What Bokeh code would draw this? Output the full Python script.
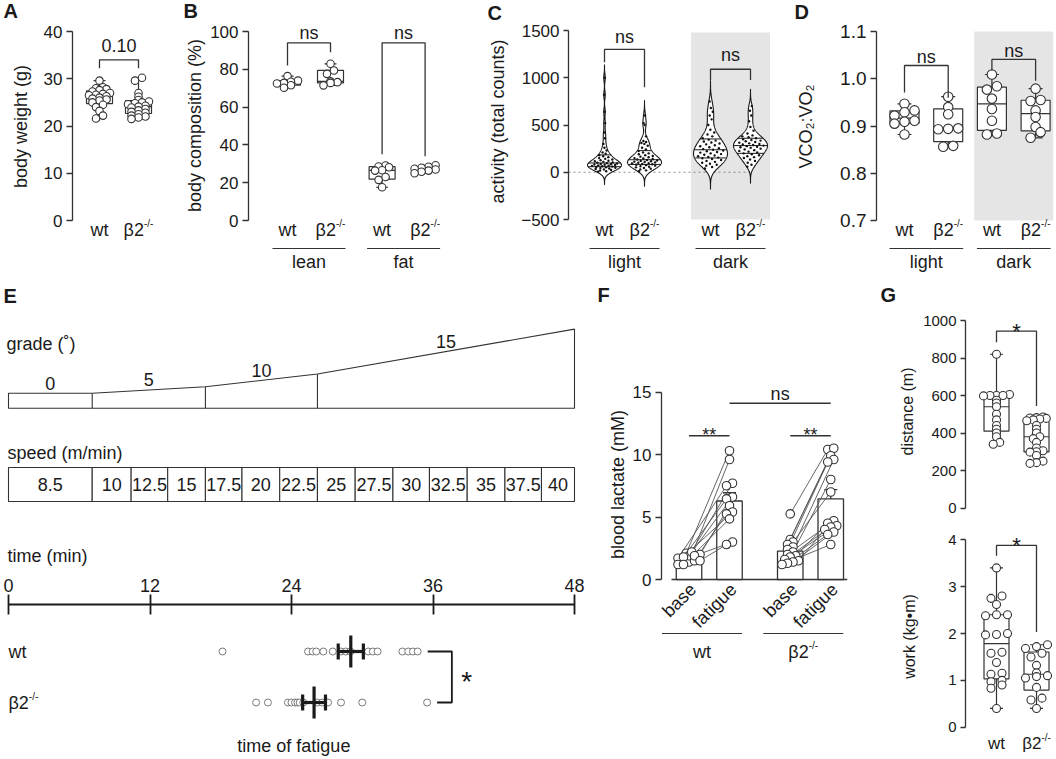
import numpy as np
from bokeh.plotting import figure
from bokeh.models import Range1d, FixedTicker, PrintfTickFormatter
from bokeh.layouts import row, column
from bokeh.embed import file_html
from bokeh.resources import INLINE
from bokeh.core.properties import value

FONT = "Liberation Sans"
INK = "#1a1a1a"
LINE = "#333333"
SHADE = "#e5e5e5"

# ---------------- data ----------------
# A: body weight (g)
bw_cats = ["wt", "β2"]
bw_pos = [1, 2]
bw_wt = [29.6, 28.2, 28.0, 27.8, 27.6, 27.3, 27.0, 26.8, 26.6, 26.5, 26.3, 26.0,
         25.8, 25.6, 25.4, 25.0, 24.5, 24.0, 23.2, 22.2, 21.6]
bw_b2 = [30.2, 29.6, 27.0, 26.2, 25.5, 25.2, 25.0, 24.8, 24.6, 24.3, 24.1, 23.9,
         23.6, 23.3, 23.0, 22.8, 22.5, 22.2, 22.0, 21.8, 21.5]
bw_ticks = [0, 10, 20, 30, 40]
bw_sig = [(0, 1, 34.0, 32.2, 32.2, "0.10")]

# B: body composition (%)
comp_cats = ["wt", "β2", "wt", "β2"]
comp_pos = [1, 2, 3.2, 4.2]
comp_groups = [("lean", 0, 1), ("fat", 2, 3)]
comp_lean_wt = [76.4, 74.0, 73.4, 72.8, 72.5, 71.6, 70.2]
comp_lean_b2 = [82.9, 79.4, 77.6, 73.6, 73.2, 72.8, 71.5]
comp_fat_wt = [29.1, 28.6, 28.2, 26.6, 26.4, 23.0, 21.5, 17.6]
comp_fat_b2 = [29.2, 28.4, 27.9, 27.4, 27.0, 26.4, 25.8, 25.0]
comp_ticks = [0, 20, 40, 60, 80, 100]
comp_sig = [(0, 1, 94.0, 82.0, 89.0, "ns"), (2, 3, 94.0, 35.0, 34.0, "ns")]

# C: activity (total counts)
act_cats = ["wt", "β2", "wt", "β2"]
act_pos = [1, 2, 3.65, 4.65]
act_groups = [("light", 0, 1), ("dark", 2, 3)]
act_wt_light = [1000, 820, 640, 520, 420, 360, 300, 260, 230, 210, 195, 180, 170, 160,
                150, 142, 135, 128, 122, 116, 110, 105, 100, 96, 92, 88, 85, 82, 79, 76,
                73, 70, 67, 64, 60, 56, 52, 48, 44, 40, 35, 30, 24, 18, 10, 5]
act_b2_light = [600, 520, 500, 380, 330, 320, 310, 300, 280, 260, 240, 225, 210, 200,
                190, 180, 172, 165, 158, 150, 145, 140, 135, 130, 125, 120, 116, 112,
                108, 104, 100, 96, 92, 88, 84, 80, 75, 70, 64, 58, 52, 45, 38, 30, 20, 10]
act_wt_dark = [750, 680, 640, 600, 560, 500, 450, 420, 400, 380, 360, 345, 335, 325,
               315, 305, 295, 285, 275, 265, 255, 245, 238, 230, 222, 215, 208, 200,
               192, 185, 178, 170, 162, 155, 148, 140, 130, 120, 110, 100, 90, 80, 70, 55, 40]
act_b2_dark = [700, 650, 600, 540, 480, 440, 410, 390, 380, 370, 360, 350, 342, 335,
               328, 320, 313, 306, 300, 294, 288, 282, 276, 270, 264, 258, 250, 242,
               234, 226, 218, 210, 200, 190, 180, 170, 160, 150, 135, 120, 100, 80, 60]
act_ticks = [-500, 0, 500, 1000, 1500]
act_sig = [(0, 1, 1300.0, 1165.0, 900.0, "ns"), (2, 3, 1090.0, 975.0, 975.0, "ns")]

# D: VCO2:VO2
rer_cats = ["wt", "β2", "wt", "β2"]
rer_pos = [1, 2, 3, 4]
rer_groups = [("light", 0, 1), ("dark", 2, 3)]
rer_wt_light = [0.947, 0.933, 0.929, 0.922, 0.911, 0.909, 0.905, 0.882]
rer_b2_light = [0.962, 0.940, 0.925, 0.895, 0.894, 0.893, 0.858, 0.856]
rer_wt_dark = [1.009, 0.984, 0.977, 0.958, 0.936, 0.911, 0.884, 0.882]
rer_b2_dark = [0.979, 0.955, 0.953, 0.933, 0.919, 0.898, 0.887, 0.875]
rer_ticks = [0.7, 0.8, 0.9, 1.0, 1.1]
rer_sig = [(0, 1, 1.028, 0.971, 0.960, "ns"), (2, 3, 1.041, 1.017, 0.996, "ns")]

# E: treadmill protocol and time of fatigue
grade_edges = [0.0, 7.1, 16.7, 26.2, 48.0]
grade_values = [0, 5, 10, 15]
speed_edges = [0.0, 7.1, 10.4, 13.5, 16.7, 19.8, 23.0, 26.2, 29.4, 32.6, 35.7, 38.9,
               42.1, 45.2, 48.0]
speed_labels = ["8.5", "10", "12.5", "15", "17.5", "20", "22.5", "25", "27.5", "30",
                "32.5", "35", "37.5", "40"]
time_ticks = [0, 12, 24, 36, 48]
ftime_cats = ["wt", "β2"]
ftime_wt = [18.15, 25.4, 25.8, 26.1, 26.7, 27.5, 28.2, 28.6, 29.0, 30.5, 30.9, 31.3,
            33.4, 33.9, 34.3, 34.7]
ftime_b2 = [21.0, 22.0, 23.7, 24.0, 24.3, 24.5, 24.7, 25.0, 26.2, 26.6, 27.1, 28.2,
            30.0, 35.5]

# F: blood lactate (mM)
lac_cats = ["base", "fatigue", "base", "fatigue"]
lac_pos = [1, 2, 3.5, 4.5]
lac_groups = [("wt", 0, 1), ("β2", 2, 3)]
lac_wt_base = [2.1, 1.4, 1.9, 1.7, 2.2, 1.2, 2.0, 1.8, 1.5, 1.2, 1.9, 1.5]
lac_wt_fat = [10.3, 9.6, 7.7, 7.5, 6.6, 6.45, 5.9, 5.4, 5.25, 4.85, 3.0, 2.8]
lac_b2_base = [5.25, 3.2, 3.0, 2.8, 2.6, 2.4, 2.2, 2.0, 1.9, 1.8, 1.6, 1.5, 1.4, 1.3, 1.2]
lac_b2_fat = [10.4, 10.5, 7.0, 9.9, 9.6, 9.4, 8.0, 4.7, 4.5, 4.3, 4.2, 4.0, 3.8, 3.6, 2.8]
lac_ticks = [0, 5, 10, 15]
lac_sig = [(0, 1, 11.5, "**"), (2, 3, 11.5, "**"), (1, 3, 14.1, "ns")]

# G: distance (m) and work (kg*m)
g_cats = ["wt", "β2"]
g_pos = [1, 2]
dist_wt = [820, 605, 600, 600, 600, 598, 575, 560, 540, 500, 470, 440, 420, 400, 380, 350, 340]
dist_b2 = [485, 482, 480, 478, 475, 470, 465, 440, 420, 400, 380, 370, 350, 320, 305,
           300, 298, 280, 250, 242, 238]
dist_ticks = [0, 200, 400, 600, 800, 1000]
dist_sig = [(0, 1, 943.0, 884.0, 544.0, "*")]
work_wt = [3.4, 2.8, 2.75, 2.62, 2.4, 2.4, 2.38, 2.0, 1.98, 1.97, 1.6, 1.58, 1.38,
           1.15, 1.13, 1.0, 0.97, 0.9, 0.83, 0.4]
work_b2 = [1.76, 1.72, 1.68, 1.58, 1.5, 1.32, 1.16, 1.1, 1.08, 1.05, 0.85, 0.62, 0.58, 0.4]
work_ticks = [0, 1, 2, 3, 4]
work_sig = [(0, 1, 3.88, 3.66, 2.03, "*")]


# ---------------- helpers ----------------
def lin(pa, va, pb, vb):
    k = (vb - va) / (pb - pa)
    return lambda px: va + (px - pa) * k


def panel(fx, fy, w, h, xa, xb, ya, yb, axis_px=None, xloc=None):
    """Figure whose frame fills the figure; (px, value) anchors define the scales."""
    X = lin(xa[0], xa[1], xb[0], xb[1])
    Y = lin(ya[0], ya[1], yb[0], yb[1])
    p = figure(width=w, height=h,
               x_range=Range1d(X(fx), X(fx + w)),
               y_range=Range1d(Y(fy + h), Y(fy)),
               min_border_left=0, min_border_top=0,
               min_border_right=0, min_border_bottom=0,
               x_axis_location=xloc,
               y_axis_location="left" if axis_px is not None else None,
               toolbar_location=None, output_backend="svg",
               outline_line_color=None, background_fill_color="white",
               border_fill_color="white")
    p.grid.visible = False
    if axis_px is not None:
        p.yaxis[0].fixed_location = X(axis_px)
    return p, X, Y


def style_axis(ax, ticks, size, fmt=None, tick_out=6, tick_in=0, color=LINE, lw=1.3,
               standoff=4):
    ax.ticker = FixedTicker(ticks=ticks)
    ax.bounds = (min(ticks), max(ticks))
    ax.axis_line_color = color
    ax.axis_line_width = lw
    ax.major_tick_line_color = color
    ax.major_tick_line_width = lw
    ax.major_tick_out = tick_out
    ax.major_tick_in = tick_in
    ax.minor_tick_line_color = None
    ax.major_label_text_font = FONT
    ax.major_label_text_font_size = size
    ax.major_label_text_color = INK
    ax.major_label_standoff = standoff
    if fmt:
        ax.formatter = PrintfTickFormatter(format=fmt)


def txt(p, x, y, s, size, align="center", angle=0.0, xo=0.0, yo=0.0, color=INK,
        bold=False):
    p.text(x=[x], y=[y], text=[s], text_font=value(FONT),
           text_font_size=value(f"{size}px"),
           text_font_style="bold" if bold else "normal", text_color=color,
           text_align=align, text_baseline="middle", angle=angle,
           x_offset=xo, y_offset=yo)


def vtitle(p, x, y, s, size):
    txt(p, x, y, s, size, angle=np.pi / 2)


def letter(p, x, y, s):
    txt(p, x, y, s, 20, align="left", bold=True)


def cat_label(p, x, y, name, size=18, sup=10, align="center"):
    if name == "β2":
        wm = 1.13 * size
        ws = 0.944 * sup
        left = -(wm + ws) / 2 if align == "center" else 0.0
        txt(p, x, y, "β2", size, align="left", xo=left)
        txt(p, x, y, "-/-", sup, align="left", xo=left + wm, yo=-0.36 * size)
    else:
        txt(p, x, y, name, size, align=align)


def swarm(vals, bin_v, dx):
    v = np.asarray(vals, float)
    order = np.argsort(v)
    offs = np.zeros(len(v))
    groups, cur = [], [order[0]]
    for idx in order[1:]:
        if v[idx] - v[cur[0]] < bin_v:
            cur.append(idx)
        else:
            groups.append(cur)
            cur = [idx]
    groups.append(cur)
    for g in groups:
        m = len(g)
        for k, idx in enumerate(g):
            offs[idx] = (k - (m - 1) / 2) * dx
    return offs


def boxplot(p, x, vals, hw, cw, lw=1.2):
    v = np.asarray(vals, float)
    q1, med, q3 = np.percentile(v, [25, 50, 75], method="weibull")
    lo, hi = v.min(), v.max()
    p.segment(x0=[x, x], y0=[q3, q1], x1=[x, x], y1=[hi, lo], line_color=LINE, line_width=lw)
    p.quad(left=[x - hw], right=[x + hw], bottom=[q1], top=[q3],
           fill_color="white", line_color=LINE, line_width=lw)
    p.segment(x0=[x - hw, x - cw, x - cw], y0=[med, hi, lo],
              x1=[x + hw, x + cw, x + cw], y1=[med, hi, lo],
              line_color=LINE, line_width=lw)


def dots(p, x, vals, bin_v, dx, size, color=LINE):
    v = np.asarray(vals, float)
    p.scatter(x + swarm(v, bin_v, dx), v, size=size, marker="circle",
              fill_color="white", line_color=color, line_width=1.1)


def bracket(p, Y, x1, x2, top, l1, l2, label, size, gap_px):
    """gap_px: distance from the bracket line up to the label's middle."""
    p.multi_line(xs=[[x1, x1, x2, x2]], ys=[[l1, top, top, l2]],
                 line_color=LINE, line_width=1.3)
    uy = Y(0) - Y(1)
    txt(p, (x1 + x2) / 2, top + gap_px * uy, label, size)


def violin(p, x, vals, half_w):
    v = np.asarray(vals, float)
    n = len(v)
    q1, med, q3 = np.percentile(v, [25, 50, 75], method="weibull")
    sd = v.std(ddof=1)
    h = 0.9 * min(sd, (q3 - q1) / 1.34) * n ** -0.2
    grid = np.linspace(v.min() - 3.5 * h, v.max() + 3.5 * h, 400)
    dens = np.exp(-0.5 * ((grid[:, None] - v[None, :]) / h) ** 2).sum(1)
    w = dens / dens.max() * half_w
    p.patch(np.concatenate([x - w, (x + w)[::-1]]), np.concatenate([grid, grid[::-1]]),
            fill_color="white", line_color=INK, line_width=1.1)
    for q in (q1, med, q3):
        wq = np.interp(q, grid, w)
        p.segment(x0=[x - wq], y0=[q], x1=[x + wq], y1=[q], line_color=INK, line_width=1.0)
    vs = np.sort(v)
    u = ((np.arange(n) * 0.618034) % 1.0) * 2 - 1
    wv = np.interp(vs, grid, w)
    p.scatter(x + u * 0.8 * wv, vs, size=2.4, marker="circle",
              fill_color="#111111", line_color=None)


def group_axis(p, Y, pos, cats, groups, ux):
    for x, c in zip(pos, cats):
        cat_label(p, x, Y(229), c)
    for name, i0, i1 in groups:
        a, b = pos[i0] - 15 * ux, pos[i1] + 15 * ux
        p.segment(x0=[a], y0=[Y(248)], x1=[b], y1=[Y(248)], line_color=LINE, line_width=1.2)
        txt(p, (pos[i0] + pos[i1]) / 2, Y(261), name, 18)


# ---------------- A ----------------
pA, XA, YA = panel(0, 0, 178, 283, (99, 1), (138, 2), (31, 40), (220, 0), axis_px=72)
style_axis(pA.yaxis[0], bw_ticks, "17px")
uxA, uyA = XA(1) - XA(0), abs(YA(1) - YA(0))
for x, vals in zip(bw_pos, [bw_wt, bw_b2]):
    boxplot(pA, x, vals, 13 * uxA, 6 * uxA)
    dots(pA, x, vals, 3.3 * uyA, 7 * uxA, 7.5)
for i0, i1, top, l1, l2, lab in bw_sig:
    bracket(pA, YA, bw_pos[i0], bw_pos[i1], top, l1, l2, lab, 18, 14)
for x, c in zip(bw_pos, bw_cats):
    cat_label(pA, x, YA(229), c)
vtitle(pA, XA(20), YA(126), "body weight (g)", 18)
letter(pA, XA(3), YA(10), "A")

# ---------------- B ----------------
pB, XB, YB = panel(178, 0, 292, 283, (287, 1), (330, 2), (31, 100), (220, 0), axis_px=248)
style_axis(pB.yaxis[0], comp_ticks, "17px")
uxB, uyB = XB(1) - XB(0), abs(YB(1) - YB(0))
for x, vals in zip(comp_pos, [comp_lean_wt, comp_lean_b2, comp_fat_wt, comp_fat_b2]):
    boxplot(pB, x, vals, 13 * uxB, 6 * uxB)
    dots(pB, x, vals, 3.8 * uyB, 7 * uxB, 7.5)
for i0, i1, top, l1, l2, lab in comp_sig:
    bracket(pB, YB, comp_pos[i0], comp_pos[i1], top, l1, l2, lab, 18, 9.5)
group_axis(pB, YB, comp_pos, comp_cats, comp_groups, uxB)
vtitle(pB, XB(194), YB(125), "body composition (%)", 18)
letter(pB, XB(183), YB(10), "B")

# ---------------- C ----------------
pC, XC, YC = panel(470, 0, 305, 283, (604, 1), (644, 2), (30, 1500), (219, -500), axis_px=568)
style_axis(pC.yaxis[0], act_ticks, "17px", tick_out=5)
uxC = XC(1) - XC(0)
dark_mid = (act_pos[2] + act_pos[3]) / 2
pC.quad(left=[dark_mid - 39.5 * uxC], right=[dark_mid + 39.5 * uxC],
        bottom=[min(act_ticks)], top=[YC(32)], fill_color=SHADE, line_color=None)
pC.segment(x0=[XC(568)], y0=[0], x1=[act_pos[-1]], y1=[0], line_color="#8a8a8a",
           line_width=1.2, line_dash="2 3")
for x, vals in zip(act_pos, [act_wt_light, act_b2_light, act_wt_dark, act_b2_dark]):
    violin(pC, x, vals, 17 * uxC)
for (i0, i1, top, l1, l2, lab), gap in zip(act_sig, [12, 14]):
    bracket(pC, YC, act_pos[i0], act_pos[i1], top, l1, l2, lab, 18, gap)
group_axis(pC, YC, act_pos, act_cats, act_groups, uxC)
vtitle(pC, XC(497), YC(121), "activity (total counts)", 18)
letter(pC, XC(487), YC(12), "C")

# ---------------- D ----------------
pD, XD, YD = panel(775, 0, 281, 283, (904, 1), (947.7, 2), (31, 1.1), (220, 0.7), axis_px=876)
style_axis(pD.yaxis[0], rer_ticks, "19px", fmt="%.1f")
uxD, uyD = XD(1) - XD(0), abs(YD(1) - YD(0))
dmid = (rer_pos[2] + rer_pos[3]) / 2
pD.quad(left=[dmid - 39.5 * uxD], right=[dmid + 39.5 * uxD],
        bottom=[min(rer_ticks)], top=[max(rer_ticks)], fill_color=SHADE, line_color=None)
for x, vals in zip(rer_pos, [rer_wt_light, rer_b2_light, rer_wt_dark, rer_b2_dark]):
    boxplot(pD, x, vals, 14.5 * uxD, 7 * uxD)
    dots(pD, x, vals, 5.7 * uyD, 10 * uxD, 9.5)
for (i0, i1, top, l1, l2, lab), gap in zip(rer_sig, [9, 8]):
    bracket(pD, YD, rer_pos[i0], rer_pos[i1], top, l1, l2, lab, 18, gap)
group_axis(pD, YD, rer_pos, rer_cats, rer_groups, uxD)
vtitle(pD, XD(805), YD(126), "VCO₂:VO₂", 18)
letter(pD, XD(794), YD(11), "D")

# ---------------- E: protocol + time of fatigue ----------------
pE, XE, YE = panel(0, 283, 590, 476, (8, 0.0), (574, 48.0), (0, 0.0), (1, 1.0),
                   xloc="above")
pE.xaxis[0].fixed_location = 604
style_axis(pE.xaxis[0], time_ticks, "18px", tick_out=10, tick_in=10, color=INK, lw=1.8,
           standoff=3)
ppm = 1.0 / (XE(1) - XE(0))
y_floor, y_top0 = 407.7, 392.7
tops = [y_top0]
for i, g in enumerate(grade_values):
    dt = grade_edges[i + 1] - grade_edges[i]
    tops.append(tops[-1] - 0.65 * np.tan(np.radians(g)) * dt * ppm)
outline_x = [grade_edges[0]] + list(grade_edges) + [grade_edges[-1]]
outline_y = [y_floor] + tops + [y_floor]
pE.patch(outline_x, outline_y, fill_color=None, line_color=LINE, line_width=1.1)
pE.segment(x0=grade_edges[1:-1], y0=[y_floor] * 3, x1=grade_edges[1:-1], y1=tops[1:-1],
           line_color=LINE, line_width=1.1)
for i, g in enumerate(grade_values):
    mid = (grade_edges[i] + grade_edges[i + 1]) / 2
    txt(pE, mid, (tops[i] + tops[i + 1]) / 2 - 10, str(g), 18)
pE.quad(left=speed_edges[:-1], right=speed_edges[1:], bottom=[501] * 14, top=[467] * 14,
        fill_color="white", line_color=LINE, line_width=1.1)
for i, s in enumerate(speed_labels):
    txt(pE, (speed_edges[i] + speed_edges[i + 1]) / 2, 484, s, 18)
txt(pE, XE(6), 343, "grade (˚)", 18, align="left")
txt(pE, XE(7), 452, "speed (m/min)", 18, align="left")
txt(pE, XE(7), 555, "time (min)", 18, align="left")
letter(pE, XE(3), 295, "E")
rows = [651, 702]
for rw, vals, c in zip(rows, [ftime_wt, ftime_b2], ftime_cats):
    v = np.asarray(vals)
    pE.scatter(v, [rw] * len(v), size=7, marker="circle", fill_color="white",
               line_color="#7a7a7a", line_width=1.0)
    m = v.mean()
    se = v.std(ddof=1) / np.sqrt(len(v))
    pE.segment(x0=[m - se, m - se, m + se, m], y0=[rw, rw - 8, rw - 8, rw - 16],
               x1=[m + se, m - se, m + se, m], y1=[rw, rw + 8, rw + 8, rw + 16],
               line_color=INK, line_width=3.2)
    cat_label(pE, XE(8), rw, c, align="left")
x_end = max(max(ftime_wt), max(ftime_b2)) + 2.1
pE.multi_line(xs=[[max(ftime_wt) + 0.85, x_end, x_end, max(ftime_b2) + 0.85]],
              ys=[[rows[0], rows[0], rows[1], rows[1]]], line_color=INK, line_width=1.8)
txt(pE, x_end + 1.25, (rows[0] + rows[1]) / 2 + 4, "*", 28)
txt(pE, 24.2, 745, "time of fatigue", 18)

# ---------------- F ----------------
pF, XF, YF = panel(590, 283, 276, 476, (688.5, 1), (729, 2), (391.5, 15), (579, 0), axis_px=661)
style_axis(pF.yaxis[0], lac_ticks, "17px")
uxF, uyF = XF(1) - XF(0), abs(YF(1) - YF(0))
lac_sets = [lac_wt_base, lac_wt_fat, lac_b2_base, lac_b2_fat]
means = [float(np.mean(s)) for s in lac_sets]
sems = [float(np.std(s, ddof=1) / np.sqrt(len(s))) for s in lac_sets]
tops_f = [m + s for m, s in zip(means, sems)]
pF.segment(x0=[lac_pos[0] - 17.5 * uxF], y0=[0], x1=[lac_pos[-1] + 16.5 * uxF], y1=[0],
           line_color=LINE, line_width=1.3)
pF.vbar(x=lac_pos, top=means, bottom=0, width=25.5 * uxF, fill_color="white",
        line_color=LINE, line_width=1.3)
pF.segment(x0=lac_pos, y0=means, x1=lac_pos, y1=tops_f, line_color=LINE, line_width=1.3)
pF.segment(x0=[x - 6.5 * uxF for x in lac_pos], y0=tops_f,
           x1=[x + 6.5 * uxF for x in lac_pos], y1=tops_f, line_color=LINE, line_width=1.3)
for gi in (0, 2):
    b = np.asarray(lac_sets[gi])
    f = np.asarray(lac_sets[gi + 1])
    xb = lac_pos[gi] + swarm(b, 5 * uyF, 5.5 * uxF)
    xf = lac_pos[gi + 1] + swarm(f, 5 * uyF, 6 * uxF)
    pF.multi_line(xs=[[a, c] for a, c in zip(xb, xf)], ys=[[a, c] for a, c in zip(b, f)],
                  line_color="#555555", line_width=0.9)
    pF.scatter(xb, b, size=8.5, marker="circle", fill_color="white", line_color=LINE,
               line_width=1.1)
    pF.scatter(xf, f, size=8.5, marker="circle", fill_color="white", line_color=LINE,
               line_width=1.1)
for i0, i1, yv, lab in lac_sig:
    pF.segment(x0=[lac_pos[i0]], y0=[yv], x1=[lac_pos[i1]], y1=[yv], line_color=LINE,
               line_width=1.3)
    gap = 9.5 if lab == "ns" else 1.2
    txt(pF, (lac_pos[i0] + lac_pos[i1]) / 2, yv + gap * uyF, lab, 18)
for x, c in zip(lac_pos, lac_cats):
    txt(pF, x, YF(586), c, 18, align="right", angle=np.pi / 4, xo=4)
for name, i0, i1 in lac_groups:
    a, b = lac_pos[i0] - 27 * uxF, lac_pos[i1] + 12.5 * uxF
    pF.segment(x0=[a], y0=[YF(633)], x1=[b], y1=[YF(633)], line_color=LINE, line_width=1.2)
    cat_label(pF, (a + b) / 2, YF(651), name)
vtitle(pF, XF(617), YF(484), "blood lactate (mM)", 18)
letter(pF, XF(597), YF(294), "F")

# ---------------- G ----------------
pG1, XG, YG1 = panel(866, 283, 190, 239, (996, 1), (1036, 2), (320, 1000), (507.5, 0),
                     axis_px=965)
style_axis(pG1.yaxis[0], dist_ticks, "15px", tick_out=5)
uxG, uyG1 = XG(1) - XG(0), abs(YG1(1) - YG1(0))
for x, vals in zip(g_pos, [dist_wt, dist_b2]):
    boxplot(pG1, x, vals, 12.5 * uxG, 6.5 * uxG)
    dots(pG1, x, vals, 2.8 * uyG1, 6.5 * uxG, 8)
for i0, i1, top, l1, l2, lab in dist_sig:
    bracket(pG1, YG1, g_pos[i0], g_pos[i1], top, l1, l2, lab, 22, 0)
vtitle(pG1, XG(907), YG1(411), "distance (m)", 16)
letter(pG1, XG(880), YG1(294), "G")

pG2, XG2, YG2 = panel(866, 522, 190, 237, (996, 1), (1036, 2), (539.3, 4), (726.7, 0),
                      axis_px=965)
style_axis(pG2.yaxis[0], work_ticks, "15px", tick_out=5)
uyG2 = abs(YG2(1) - YG2(0))
for x, vals in zip(g_pos, [work_wt, work_b2]):
    boxplot(pG2, x, vals, 12.5 * uxG, 6.5 * uxG)
    dots(pG2, x, vals, 4.5 * uyG2, 11 * uxG, 8)
for i0, i1, top, l1, l2, lab in work_sig:
    bracket(pG2, YG2, g_pos[i0], g_pos[i1], top, l1, l2, lab, 22, 0)
for x, c in zip(g_pos, g_cats):
    cat_label(pG2, x, YG2(743), c, size=17)
vtitle(pG2, XG2(909), YG2(636), "work (kg•m)", 16)

layout = column(row(pA, pB, pC, pD),
                row(pE, pF, column(pG1, pG2)))

open("out.html", "w").write(file_html(layout, INLINE, title="figure"))
